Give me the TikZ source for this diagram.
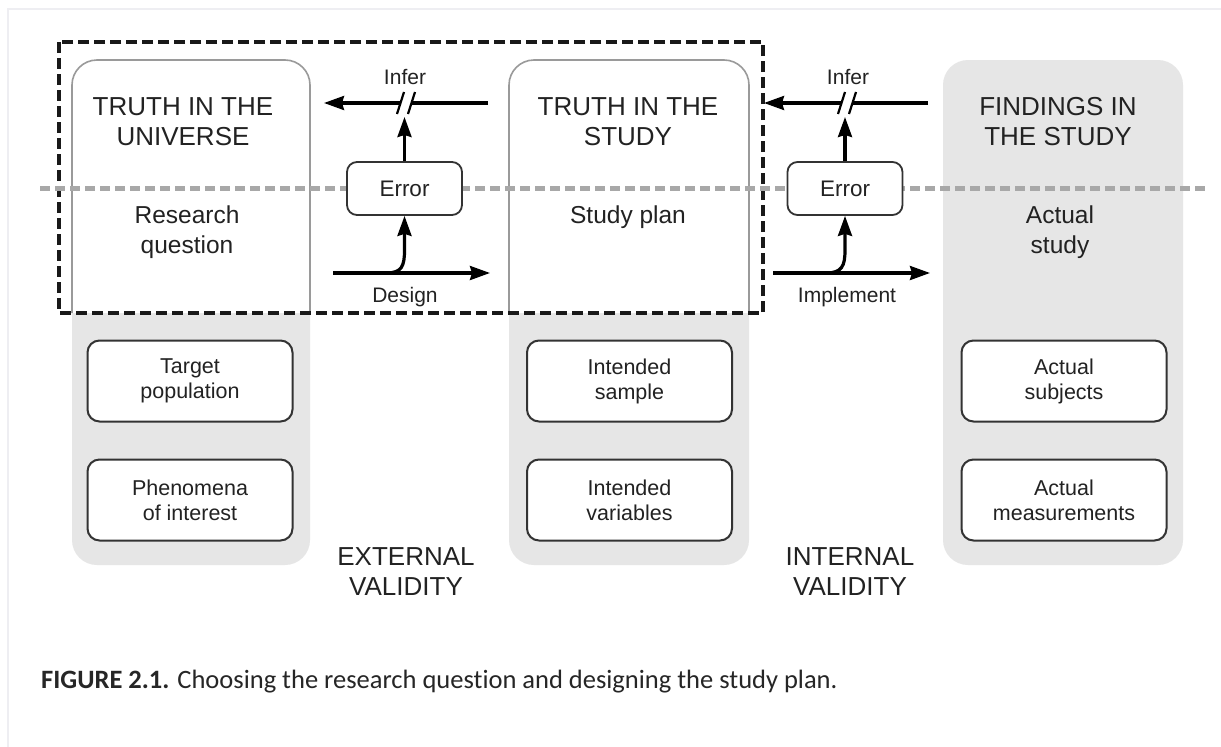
\documentclass[tikz,border=0pt]{standalone}
\usepackage{fontspec}
\setmainfont{Liberation Sans}
\newfontfamily\capfont[Ligatures=NoCommon]{Carlito}
\usetikzlibrary{arrows.meta}
\definecolor{colgray}{HTML}{E6E6E6}
\definecolor{edgegray}{HTML}{9A9A9A}
\definecolor{dashgray}{HTML}{A8A8A8}
\definecolor{txtc}{HTML}{222222}
\definecolor{framec}{HTML}{EEEEF2}
\tikzset{
  colbox/.style={fill=colgray, rounded corners=25pt, minimum width=238pt, minimum height=505pt, inner sep=0pt},
  smallbox/.style={draw=black!80, fill=white, rounded corners=12pt, line width=2pt, minimum width=205pt, minimum height=81pt, align=center, text=txtc, font=\fontsize{21.5}{25}\selectfont},
  errbox/.style={draw=black!80, fill=white, rounded corners=10pt, line width=1.8pt, minimum width=115pt, minimum height=53pt, text=txtc, font=\fontsize{22.5}{26}\selectfont},
  title/.style={align=center, text=txtc, font=\fontsize{26}{30}\selectfont},
  sub/.style={align=center, text=txtc, font=\fontsize{24.5}{30}\selectfont},
  lbl/.style={text=txtc, font=\fontsize{21}{24}\selectfont},
  arr/.style={line width=3.2pt, -{Stealth[length=20pt,width=14pt,inset=2pt]}},
  ln/.style={line width=3.2pt},
  brk/.style={line width=2.2pt},
}
\begin{document}
\begin{tikzpicture}[x=1pt,y=-1pt]
\useasboundingbox (0,0) rectangle (1221,747);
\fill[white] (0,0) rectangle (1221,747);
% faint page frame
\draw[framec, line width=1.2pt] (8,747) -- (8,9) -- (1221,9);

% columns
\node[colbox] (colL) at (191,312.5) {};
\node[colbox, minimum width=240pt] (colM) at (629,312.5) {};
\node[colbox, minimum width=240pt] (colR) at (1063,312.5) {};

% white top parts
\filldraw[draw=edgegray, fill=white, line width=1.6pt, rounded corners=25pt] (72,313) -- (72,60) -- (310,60) -- (310,313);
\filldraw[draw=edgegray, fill=white, line width=1.6pt, rounded corners=25pt] (509,313) -- (509,60) -- (749,60) -- (749,313);

% black dashed frame
\draw[black!90, line width=3.2pt, dash pattern=on 11pt off 5pt] (59,42) rectangle (763,313);

% gray dashed divider
\draw[dashgray, line width=5pt, dash pattern=on 10pt off 5pt] (40,188) -- (1208,188);

% titles
\node[title] (tu) at (183,122) {TRUTH IN THE\\UNIVERSE};
\node[sub] (rq) at (187,232) {Research\\question};
\node[title] (ts) at (628,122) {TRUTH IN THE\\STUDY};
\node[sub] (sp) at (628,217) {Study plan};
\node[title] (fs) at (1058,122) {FINDINGS IN\\THE STUDY};
\node[sub] (as) at (1060,232) {Actual\\study};

% small boxes
\node[smallbox] (tp) at (190,381) {Target\\population};
\node[smallbox] (pi) at (190,500) {Phenomena\\of interest};
\node[smallbox] (is) at (629.5,381) {Intended\\sample};
\node[smallbox] (iv) at (629.5,500) {Intended\\variables};
\node[smallbox] (asu) at (1064,381) {Actual\\subjects};
\node[smallbox] (ame) at (1064,500) {Actual\\measurements};

% validity labels
\node[title] (ev) at (406,572) {EXTERNAL\\VALIDITY};
\node[title] (iva) at (850,572) {INTERNAL\\VALIDITY};

% error boxes
\node[errbox] (err1) at (404.5,188.5) {Error};
\node[errbox] (err2) at (845,188.5) {Error};

% arrow coordinates
\coordinate (i1s) at (488,103);
\coordinate (i1e) at (324,103);
\coordinate (i2s) at (928,103);
\coordinate (i2e) at (764,103);
\coordinate (d1s) at (333,273);
\coordinate (d1e) at (490,273);
\coordinate (d2s) at (773,273);
\coordinate (d2e) at (930,273);

% infer arrows with break marks
\draw[ln] (i1s) -- (411,103);
\draw[arr] (401,103) -- (i1e);
\draw[brk] (397,114) -- (404,92);
\draw[brk] (408,114) -- (415,92);
\draw[ln] (i2s) -- (852,103);
\draw[arr] (842,103) -- (i2e);
\draw[brk] (838,114) -- (845,92);
\draw[brk] (849,114) -- (856,92);

% error up arrows
\draw[arr] (err1.north) -- (404.5,117);
\draw[arr] (err2.north) -- (845,117);

% design / implement
\draw[arr] (d1s) -- (d1e);
\draw[arr] (386,273) .. controls (402,273) and (404.5,266) .. (404.5,250) -- (err1.south);
\draw[arr] (d2s) -- (d2e);
\draw[arr] (826,273) .. controls (842,273) and (845,266) .. (845,250) -- (err2.south);

% labels
\node[lbl] (inf1) at (405,77) {Infer};
\node[lbl] (inf2) at (848,77) {Infer};
\node[lbl] (des) at (405,297) {Design};
\node[lbl] (imp) at (847,297) {Implement};

% caption
\node[anchor=west, inner sep=0pt, text=black!85, font=\capfont\fontsize{26.5}{30}\selectfont] (cap) at (41,682) {\textbf{FIGURE 2.1.} Choosing the research question and designing the study plan.};
\end{tikzpicture}
\end{document}
